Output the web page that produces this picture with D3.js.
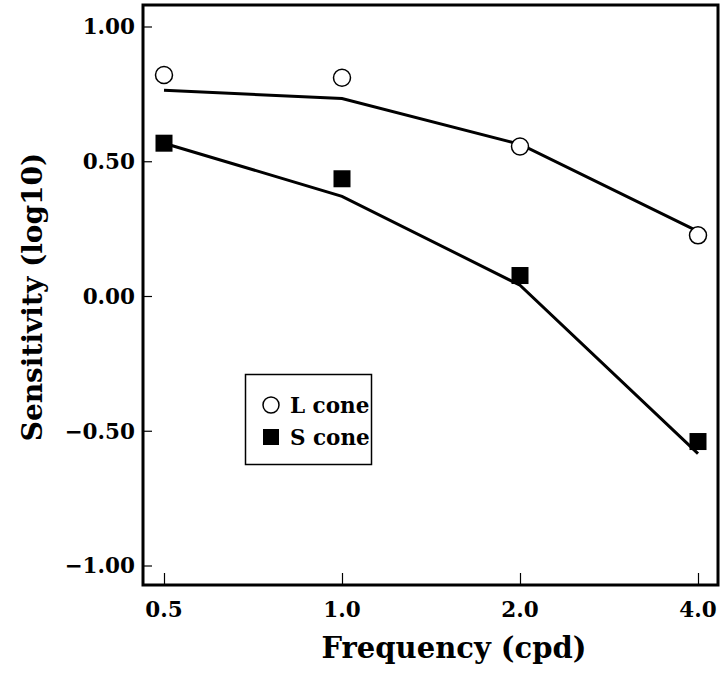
<!DOCTYPE html>
<html>
<head>
<meta charset="utf-8">
<script src="https://cdn.jsdelivr.net/npm/d3@7"></script>
<style>
  body { margin: 0; background: #fff; }
  text { font-family: "DejaVu Serif", serif; font-weight: bold; fill: #000; }
</style>
</head>
<body>
<div id="chart"></div>
<script>
// spatial frequency in cpd
const frequencies = [0.5, 1, 2, 4];
const xTicks = [0.5, 1, 2, 4];
const yTicks = [1, 0.5, 0, -0.5, -1];

// measured log10 sensitivity
const lCone = [0.82, 0.81, 0.555, 0.225];
const sCone = [0.567, 0.435, 0.076, -0.54];

// model fits
const lFit = [0.763, 0.733, 0.563, 0.24];
const sFit = [0.567, 0.37, 0.04, -0.585];

const width = 723;
const height = 677;

const svg = d3.select('#chart')
    .append('svg')
    .attr('width', width)
    .attr('height', height);

const frame = { left: 143, right: 718, top: 5, bottom: 585 };

const x = d3.scaleLog().domain([0.5, 4]).range([164, 698]);
const y = d3.scaleLinear().domain([-1, 1]).range([565.5, 26.5]);

// ticks (drawn inward from the frame)
svg.append('g')
    .attr('transform', `translate(${frame.left},0)`)
    .call(d3.axisRight(y).tickValues(yTicks).tickSize(9).tickFormat(''))
    .call(g => g.select('.domain').remove())
    .call(g => g.selectAll('line').attr('stroke', '#000').attr('stroke-width', 1.2));

svg.append('g')
    .attr('transform', `translate(0,${frame.bottom})`)
    .call(d3.axisTop(x).tickValues(xTicks).tickSize(12).tickFormat(''))
    .call(g => g.select('.domain').remove())
    .call(g => g.selectAll('line').attr('stroke', '#000').attr('stroke-width', 1.2));

// tick labels
svg.append('g').selectAll('text')
    .data(yTicks)
    .join('text')
    .attr('x', 135)
    .attr('y', d => y(d))
    .attr('dy', '0.37em')
    .attr('text-anchor', 'end')
    .style('font-size', '21.5px')
    .text(d => d3.format('.2f')(d));

svg.append('g').selectAll('text')
    .data(xTicks)
    .join('text')
    .attr('x', d => x(d))
    .attr('y', 617)
    .attr('text-anchor', 'middle')
    .style('font-size', '21.5px')
    .text(d => d3.format('.1f')(d));

// frame
svg.append('rect')
    .attr('x', frame.left)
    .attr('y', frame.top)
    .attr('width', frame.right - frame.left)
    .attr('height', frame.bottom - frame.top)
    .attr('fill', 'none')
    .attr('stroke', '#000')
    .attr('stroke-width', 3);

// axis titles
svg.append('text')
    .attr('x', 454)
    .attr('y', 658)
    .attr('text-anchor', 'middle')
    .style('font-size', '29px')
    .text('Frequency (cpd)');

svg.append('text')
    .attr('transform', 'translate(42,297) rotate(-90)')
    .attr('text-anchor', 'middle')
    .style('font-size', '28px')
    .text('Sensitivity (log10)');

// fit lines
const line = d3.line()
    .x(d => x(d[0]))
    .y(d => y(d[1]));

[lFit, sFit].forEach(fit => {
    svg.append('path')
        .datum(frequencies.map((f, i) => [f, fit[i]]))
        .attr('d', line)
        .attr('fill', 'none')
        .attr('stroke', '#000')
        .attr('stroke-width', 3);
});

// data markers
svg.append('g').selectAll('circle')
    .data(frequencies.map((f, i) => [f, lCone[i]]))
    .join('circle')
    .attr('cx', d => x(d[0]))
    .attr('cy', d => y(d[1]))
    .attr('r', 8.5)
    .attr('fill', '#fff')
    .attr('stroke', '#000')
    .attr('stroke-width', 1.5);

svg.append('g').selectAll('rect')
    .data(frequencies.map((f, i) => [f, sCone[i]]))
    .join('rect')
    .attr('x', d => x(d[0]) - 8.5)
    .attr('y', d => y(d[1]) - 8.5)
    .attr('width', 17)
    .attr('height', 17)
    .attr('fill', '#000');

// legend
const legend = svg.append('g');
legend.append('rect')
    .attr('x', 245.5)
    .attr('y', 374.5)
    .attr('width', 126)
    .attr('height', 90)
    .attr('fill', '#fff')
    .attr('stroke', '#000')
    .attr('stroke-width', 1.5);

legend.append('circle')
    .attr('cx', 271)
    .attr('cy', 405)
    .attr('r', 8)
    .attr('fill', '#fff')
    .attr('stroke', '#000')
    .attr('stroke-width', 1.5);
legend.append('rect')
    .attr('x', 263)
    .attr('y', 429)
    .attr('width', 16)
    .attr('height', 16)
    .attr('fill', '#000');

legend.append('text')
    .attr('x', 290)
    .attr('y', 413)
    .style('font-size', '21.5px')
    .text('L cone');
legend.append('text')
    .attr('x', 290)
    .attr('y', 445)
    .style('font-size', '21.5px')
    .text('S cone');
</script>
</body>
</html>
